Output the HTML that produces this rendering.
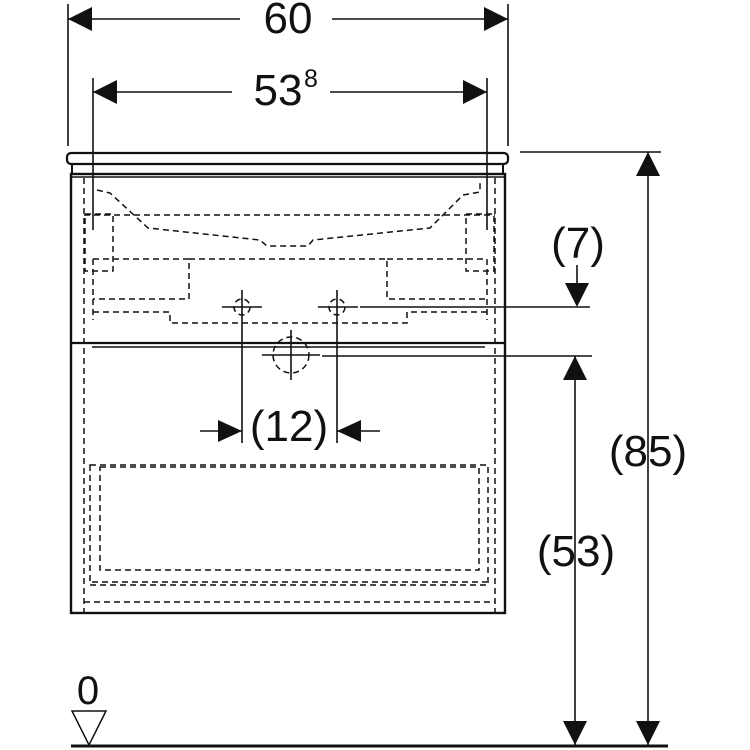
<!DOCTYPE html>
<html><head><style>html,body{margin:0;padding:0;background:#fff}svg{display:block}</style></head>
<body>
<svg width="750" height="750" viewBox="0 0 750 750" xmlns="http://www.w3.org/2000/svg" font-family="Liberation Sans, Arial, sans-serif" fill="none" stroke="#111">
<g stroke-width="1.6">
<line x1="68" y1="4" x2="68" y2="146"/>
<line x1="508" y1="4" x2="508" y2="146"/>
<line x1="93" y1="78" x2="93" y2="230"/>
<line x1="487" y1="78" x2="487" y2="230"/>
<line x1="68" y1="19" x2="240" y2="19"/>
<line x1="332" y1="19" x2="508" y2="19"/>
<line x1="93" y1="92" x2="232" y2="92"/>
<line x1="330" y1="92" x2="487" y2="92"/>
<line x1="520" y1="152" x2="661" y2="152"/>
<line x1="648" y1="152" x2="648" y2="745"/>
<line x1="575" y1="356" x2="575" y2="745"/>
<line x1="577" y1="265" x2="577" y2="300"/>
<line x1="360" y1="307" x2="590" y2="307"/>
<line x1="322" y1="356" x2="592" y2="356"/>
<line x1="242" y1="290" x2="242" y2="443"/>
<line x1="337" y1="290" x2="337" y2="443"/>
<line x1="200" y1="431" x2="242" y2="431"/>
<line x1="337" y1="431" x2="380" y2="431"/>
<line x1="222" y1="307" x2="262" y2="307"/>
<line x1="318" y1="307" x2="358" y2="307"/>
<line x1="262" y1="355" x2="320" y2="355"/>
<line x1="291" y1="330" x2="291" y2="380"/>
</g>
<g fill="#111" stroke="none">
<polygon points="68,19 92,7 92,31"/>
<polygon points="508,19 484,7 484,31"/>
<polygon points="93,92 117,80 117,104"/>
<polygon points="487,92 463,80 463,104"/>
<polygon points="648,152 636,176 660,176"/>
<polygon points="648,745 636,721 660,721"/>
<polygon points="575,356 563,380 587,380"/>
<polygon points="575,745 563,721 587,721"/>
<polygon points="577,307 565,283 589,283"/>
<polygon points="242,431 218,420 218,442"/>
<polygon points="337,431 361,420 361,442"/>
</g>
<rect x="67" y="153" width="441" height="11" rx="4" stroke-width="2.2"/>
<line x1="72" y1="164" x2="72" y2="174" stroke-width="2"/>
<line x1="503" y1="164" x2="503" y2="174" stroke-width="2"/>
<rect x="71" y="174" width="434" height="439" stroke-width="2.4"/>
<line x1="71" y1="177" x2="505" y2="177" stroke-width="1.5"/>
<line x1="71" y1="343" x2="505" y2="343" stroke-width="2.2"/>
<line x1="92" y1="347" x2="485" y2="347" stroke-width="1.5"/>
<g stroke-width="1.5" stroke-dasharray="6,4">
<line x1="84" y1="178" x2="84" y2="612"/>
<line x1="495" y1="178" x2="495" y2="612"/>
<line x1="84" y1="602" x2="495" y2="602"/>
<path d="M97,190 L110,193 L148,228 L260,240 L267,246 L308,246 L313,240 L430,228 L463,195 L480,192 L480,180"/>
<line x1="84" y1="215" x2="495" y2="215"/>
<rect x="85" y="214" width="28" height="57"/>
<rect x="466" y="214" width="28" height="57"/>
<path d="M93,259 H189 V299 H93 M93,312 H170 V323 H407 V312 H487 M387,259 H487 M189,259 H387 V299 H487"/>
<line x1="93" y1="259" x2="93" y2="320"/>
<line x1="487" y1="259" x2="487" y2="320"/>
<rect x="90" y="465" width="398" height="120"/>
<rect x="100" y="467" width="379" height="103"/>
<line x1="92" y1="582" x2="487" y2="582"/>
<circle cx="242" cy="307" r="8"/>
<circle cx="337" cy="307" r="8"/>
<circle cx="291" cy="355" r="18"/>
</g>
<line x1="71" y1="746" x2="668" y2="746" stroke-width="3"/>
<polygon points="72,711 106,711 89,745" stroke-width="1.5" fill="#fff"/>
<g fill="#111" stroke="none" font-size="44" text-anchor="middle">
<text x="288" y="33">60</text>
<text x="278" y="105">53</text>
<text x="311" y="87" font-size="25">8</text>
<text x="578" y="258">(7)</text>
<text x="289" y="441">(12)</text>
<text x="648" y="466">(85)</text>
<text x="576" y="566">(53)</text>
<text x="88" y="704" font-size="40">0</text>
</g>
</svg>
</body></html>
